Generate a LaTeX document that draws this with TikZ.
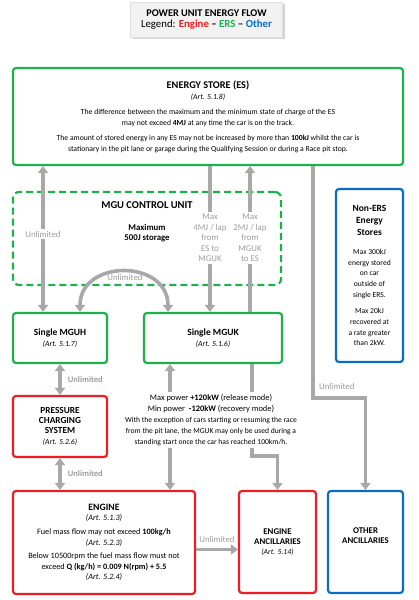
\documentclass[tikz,border=0pt]{standalone}
\usepackage{fontspec}
\setmainfont{Carlito}
\usepackage{xcolor}
\usetikzlibrary{arrows.meta,positioning,calc,shadows}
\definecolor{puEngine}{HTML}{EE1C25}
\definecolor{puERS}{HTML}{1DB14B}
\definecolor{puOther}{HTML}{0A6CC2}
\definecolor{puFlow}{HTML}{A8A8A8}
\definecolor{puMutedText}{HTML}{9C9C9C}
\definecolor{puTitle}{HTML}{F2F2F2}
\tikzset{
    puBoxBase/.style={
        rectangle,
        draw,
        line width=2.2pt,
        rounded corners=3pt,
        fill=white,
        align=center,
        font=\fontsize{7.7}{11}\selectfont,
        inner sep=2pt
    },
    % Semantic Variants
    ers/.style={puBoxBase, draw=puERS},
    engine/.style={puBoxBase, draw=puEngine},
    other/.style={puBoxBase, draw=puOther},
    ersUnit/.style={rectangle, draw=puERS, line width=2.2pt, dash pattern=on 7pt off 4pt, rounded corners=6pt},
    % Arrows
    puLine/.style={line width=3.6pt, draw=puFlow},
    puArrowBase/.style={puLine, -{Triangle[width=10pt,length=7pt]}},
    puDouble/.style={puLine, {Triangle[width=10pt,length=7pt]}-{Triangle[width=10pt,length=7pt]}},
    puLabel/.style={
        font=\fontsize{8.8}{10.5}\selectfont,
        text=puMutedText,
        align=center,
        inner sep=2pt
    },
    puHead/.style={font=\fontsize{10.5}{13}\selectfont\bfseries}
}
\newcommand{\puArt}[1]{\textit{(Art. #1)}}
\newcommand{\puHd}[2][8.5]{{\fontsize{#1}{11}\selectfont\bfseries #2}}

\begin{document}
\begin{tikzpicture}[x=1pt, y=-1pt,
    puInfo/.style={align=center, font=\fontsize{8.4}{11}\selectfont, inner sep=2pt}
]
\useasboundingbox (0,0) rectangle (418,600);

% title and legend
\node[fill=puTitle, draw=gray!25, drop shadow={opacity=0.35}, minimum width=152pt, minimum height=35pt,
      align=center, font=\fontsize{10.3}{11}\selectfont] (title) at (206.5,19.5)
      {\textbf{POWER UNIT ENERGY FLOW}\\{\fontsize{10.8}{11}\selectfont Legend: \textbf{\textcolor{puEngine}{Engine} -- \textcolor{puERS}{ERS} -- \textcolor{puOther}{Other}}}};

% boxes
\node[ers, minimum width=390pt, minimum height=97pt] (es) at (208,116.5) {%
    \puHd[10.3]{ENERGY STORE (ES)}\\
    \puArt{5.1.8}\\[4pt]
    The difference between the maximum and the minimum state of charge of the ES\\
    may not exceed \textbf{4MJ} at any time the car is on the track.\\[4pt]
    The amount of stored energy in any ES may not be increased by more than \textbf{100kJ} whilst the car is\\
    stationary in the pit lane or garage during the Qualifying Session or during a Race pit stop.};
\node[ersUnit, minimum width=268pt, minimum height=93pt] (mgucu) at (147,238.5) {};
\node[puHead] (mgucuName) at (147,205) {MGU CONTROL UNIT};
\node[align=center, font=\fontsize{8.8}{10.5}\selectfont\bfseries] (mgucuStore) at (147,233) {Maximum\\500J storage};

\node[other, minimum width=67pt, minimum height=173pt, font=\fontsize{7.6}{10.7}\selectfont] (nonErs) at (369.5,275.5) {%
    \puHd[9.5]{Non-ERS}\\[1.5pt]\puHd[9.5]{Energy}\\[1.5pt]\puHd[9.5]{Stores}\\[8pt]
    Max 300kJ\\energy stored\\on car\\outside of\\single ERS.\\[6pt]
    Max 20kJ\\recovered at\\a rate greater\\than 2kW.};

\node[ers, minimum width=94pt, minimum height=50pt] (mguh) at (60,338) {\puHd[9.5]{Single MGUH}\\\puArt{5.1.7}};
\node[ers, minimum width=138pt, minimum height=50pt] (mguk) at (213,338) {\puHd[9.5]{Single MGUK}\\\puArt{5.1.6}};
\node[engine, minimum width=94pt, minimum height=61pt, font=\fontsize{7.7}{10.2}\selectfont] (pcs) at (60,426.5) {\puHd[9.3]{PRESSURE}\\\puHd[9.3]{CHARGING}\\\puHd[9.3]{SYSTEM}\\[1pt]\puArt{5.2.6}};

\node[puInfo] (kinfo) at (211,420) {%
    Max power \textbf{+120kW} (release mode)\\
    Min power \ \textbf{-120kW} (recovery mode)\\
    {\fontsize{7.6}{10}\selectfont With the exception of cars starting or resuming the race}\\
    {\fontsize{7.6}{10}\selectfont from the pit lane, the MGUK may only be used during a}\\
    {\fontsize{7.6}{10}\selectfont standing start once the car has reached 100km/h.}};

\node[engine, minimum width=182pt, minimum height=103pt, font=\fontsize{8.2}{10.6}\selectfont] (engine) at (104,542.5) {%
    \puHd[9.7]{ENGINE}\\
    \puArt{5.1.3}\\[3pt]
    Fuel mass flow may not exceed \textbf{100kg/h}\\
    \puArt{5.2.3}\\[3pt]
    Below 10500rpm the fuel mass flow must not\\
    exceed \textbf{Q (kg/h) = 0.009 N(rpm) + 5.5}\\
    \puArt{5.2.4}};
\node[engine, minimum width=77pt, minimum height=102pt, font=\fontsize{7.7}{10}\selectfont] (engAnc) at (277.5,542) {\puHd[8.8]{ENGINE}\\\puHd[8.8]{ANCILLARIES}\\\puArt{5.14}};
\node[other, minimum width=75pt, minimum height=102pt, font=\fontsize{7.7}{10}\selectfont, text depth=12pt] (othAnc) at (365.5,542) {\puHd[8.8]{OTHER}\\\puHd[8.8]{ANCILLARIES}};

% flow labels
\node[puLabel] (unlH) at (43,234) {Unlimited};
\node[puLabel] (maxEsK) at (210,238) {Max\\4MJ / lap\\from\\ES to\\MGUK};
\node[puLabel] (maxKEs) at (250,238) {Max\\2MJ / lap\\from\\MGUK\\to ES};
\node[puLabel] (unlArc) at (125,277) {Unlimited};

% flows
\draw[puArrowBase] (unlH.north) -- (unlH.north |- es.south);
\draw[puArrowBase] (unlH.south) -- (unlH.south |- mguh.north);
\draw[puLine] (maxEsK.north |- es.south) -- (maxEsK.north);
\draw[puArrowBase] (maxEsK.south) -- (maxEsK.south |- mguk.north);
\draw[puArrowBase] (maxKEs.north) -- (maxKEs.north |- es.south);
\draw[puLine] (maxKEs.south |- mguk.north) -- (maxKEs.south);
\draw[puDouble] ([xshift=20pt]mguh.north) .. controls +(0,-53) and +(0,-53) .. ([xshift=-45pt]mguk.north);

\draw[puDouble] (mguh.south) -- (pcs.north) node[midway, right=4pt, puLabel, font=\fontsize{8.5}{10}\selectfont\bfseries] {Unlimited};
\draw[puDouble] (pcs.south) -- (pcs.south |- engine.north) node[midway, right=4pt, puLabel, font=\fontsize{8.5}{10}\selectfont\bfseries] {Unlimited};

\coordinate (kL) at ([xshift=-43pt]mguk.south);
\coordinate (kR) at ([xshift=39pt]mguk.south);
\draw[puArrowBase] (kL |- kinfo.north) -- (kL);
\draw[puArrowBase] (kL |- kinfo.south) -- (kL |- engine.north);
\draw[puLine] (kR) -- (kR |- kinfo.north);
\draw[puArrowBase] (kR |- kinfo.south) -- ++(0,8) -| (engAnc.north);

\coordinate (esR) at ([xshift=105pt]es.south);
\draw[puArrowBase] (esR) -- ++(0,232) -| (othAnc.north);
\node[puLabel, anchor=west] (unlOther) at (317,386) {Unlimited};

\coordinate (engOut) at ([yshift=-7pt]engine.east);
\draw[puArrowBase] (engOut) -- (engOut -| engAnc.west) node[midway, above=3pt, puLabel] {Unlimited};
\end{tikzpicture}
\end{document}
